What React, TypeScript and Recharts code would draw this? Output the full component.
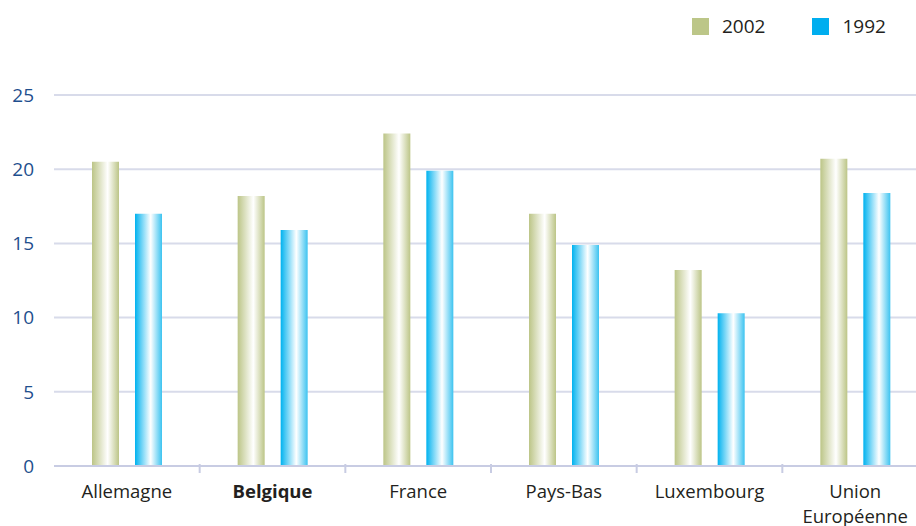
import { BarChart, Bar, XAxis, YAxis, CartesianGrid } from 'recharts';

const countries = ['Allemagne', 'Belgique', 'France', 'Pays-Bas', 'Luxembourg', 'Union Européenne'];
const values2002 = [20.5, 18.2, 22.4, 17.0, 13.2, 20.7];
const values1992 = [17.0, 15.9, 19.9, 14.9, 10.3, 18.4];
const yTicks = [0, 5, 10, 15, 20, 25];
const seriesNames = ['2002', '1992'];

const data = countries.map((name, i) => ({ name, y2002: values2002[i], y1992: values1992[i] }));

const FONT = '"Open Sans", sans-serif';
const CHART_W = 928;
const Y_W = 54;
const BAND = (CHART_W - Y_W) / countries.length;

function CountryTick(props: any) {
  const { x, y, payload, index } = props;
  const words = payload.value === 'Union Européenne' ? ['Union', 'Européenne'] : [payload.value];
  const bold = payload.value === 'Belgique';
  return (
    <g>
      {index > 0 && (
        <line x1={x - BAND / 2} x2={x - BAND / 2} y1={y - 1} y2={y - 10} stroke="#c8cce3" strokeWidth={2} />
      )}
      {words.map((w, i) => (
        <text
          key={w}
          x={x}
          y={y + 24 + i * 24.5}
          textAnchor="middle"
          fill="#231f20"
          fontSize={18.5}
          fontWeight={bold ? 700 : 400}
          fontFamily={FONT}
        >
          {w}
        </text>
      ))}
    </g>
  );
}

function LegendBox() {
  const colors = ['#bcc688', '#00aeef'];
  return (
    <div
      style={{
        position: 'absolute',
        top: 15,
        left: 692,
        display: 'flex',
        fontFamily: FONT,
        fontSize: 19,
        color: '#231f20',
        lineHeight: '22px',
      }}
    >
      {seriesNames.map((label, i) => (
        <div key={label} style={{ display: 'flex', alignItems: 'center', marginRight: 47 }}>
          <span style={{ width: 17, height: 17, background: colors[i], display: 'inline-block', marginRight: 13 }} />
          {label}
        </div>
      ))}
    </div>
  );
}

export default function App() {
  return (
    <div style={{ position: 'absolute', left: 0, top: 0, width: 916, height: 526, overflow: 'hidden', background: '#fff' }}>
      <LegendBox />
      <BarChart
        width={CHART_W}
        height={526}
        data={data}
        margin={{ top: 95, right: 0, bottom: 0, left: 0 }}
        barSize={27}
        barGap={16}
      >
        <defs>
          <linearGradient id="gGreen" x1="0" y1="0" x2="1" y2="0">
            <stop offset="0" stopColor="#bcc587" />
            <stop offset="0.58" stopColor="#ffffff" />
            <stop offset="1" stopColor="#bcc587" />
          </linearGradient>
          <linearGradient id="gBlue" x1="0" y1="0" x2="1" y2="0">
            <stop offset="0" stopColor="#00b2ef" />
            <stop offset="0.58" stopColor="#ffffff" />
            <stop offset="1" stopColor="#3cc3f0" />
          </linearGradient>
        </defs>
        <CartesianGrid vertical={false} stroke="#d8dbea" strokeWidth={2} />
        <XAxis
          dataKey="name"
          height={60}
          axisLine={{ stroke: '#c8cce3', strokeWidth: 2 }}
          tickLine={false}
          interval={0}
          tick={<CountryTick />}
        />
        <YAxis
          width={Y_W}
          domain={[0, 25]}
          ticks={yTicks}
          axisLine={false}
          tickLine={false}
          tickMargin={14}
          tick={{ fill: '#1f4f8e', fontSize: 19, fontFamily: FONT }}
        />
        <Bar dataKey="y2002" name={seriesNames[0]} fill="url(#gGreen)" isAnimationActive={false} />
        <Bar dataKey="y1992" name={seriesNames[1]} fill="url(#gBlue)" isAnimationActive={false} />
      </BarChart>
    </div>
  );
}
